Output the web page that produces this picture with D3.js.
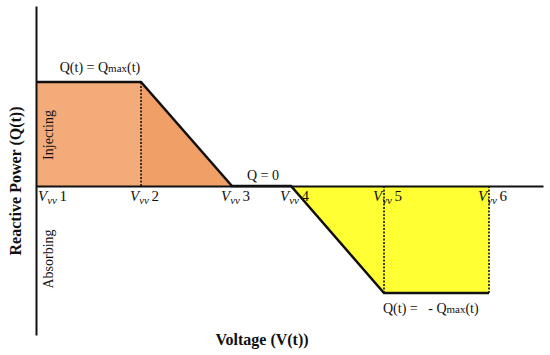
<!DOCTYPE html>
<html>
<head>
<meta charset="utf-8">
<script src="https://cdn.jsdelivr.net/npm/d3@7/dist/d3.min.js"></script>
<style>
  body { margin: 0; background: #fff; }
  svg { display: block; }
  text { font-family: "Liberation Serif", "Times New Roman", serif; fill: #111; }
</style>
</head>
<body>
<svg id="chart" width="550" height="355"></svg>
<script>
// volt-var breakpoints (arbitrary voltage units) and reactive power (per unit of Qmax)
const vvLabels = ['1', '2', '3', '4', '5', '6'];
const vvVoltage = [0, 1.05, 1.96, 2.55, 3.48, 4.53];
const vvQ = [1, 1, 0, 0, -1, -1];
const injectingRect = [0, 1];   // indexes: flat Qmax part
const injectingRamp = [1, 2];   // indexes: ramp down to 0
const absorbingPart = [3, 4, 5];

const svg = d3.select('#chart');

const x = d3.scaleLinear().domain([0, 5.07]).range([36, 543]);
const y = d3.scaleLinear().domain([1, 0, -1]).range([82, 186, 293]);

const area = d3.area()
  .x((i) => x(vvVoltage[i]))
  .y0(y(0))
  .y1((i) => y(vvQ[i]));

// filled regions
svg.append('path').datum(injectingRect).attr('d', area).attr('fill', '#F4AB7A');
svg.append('path').datum(injectingRamp).attr('d', area).attr('fill', '#F0A066');
svg.append('path').datum(absorbingPart).attr('d', area).attr('fill', '#FFFF33');

// dashed verticals at V2, V5, V6
[1, 4, 5].forEach((i) => {
  svg.append('line')
    .attr('x1', x(vvVoltage[i])).attr('x2', x(vvVoltage[i]))
    .attr('y1', y(0)).attr('y2', y(vvQ[i]))
    .attr('stroke', '#111')
    .attr('stroke-width', 1.6)
    .attr('stroke-dasharray', '2,1.5');
});

// axes
const xAxis = d3.axisBottom(x).tickValues([]).tickSizeOuter(0);
svg.append('g')
  .attr('transform', `translate(0,${y(0)})`)
  .call(xAxis)
  .call((g) => g.select('.domain').attr('stroke', '#111').attr('stroke-width', 2));

const yAxis = d3.axisLeft(d3.scaleLinear().domain([0, 1]).range([335, 6])).tickValues([]).tickSizeOuter(0);
svg.append('g')
  .attr('transform', 'translate(36,0)')
  .call(yAxis)
  .call((g) => g.select('.domain').attr('stroke', '#111').attr('stroke-width', 2));

// volt-var curve
const curve = d3.line()
  .x((i) => x(vvVoltage[i]))
  .y((i) => y(vvQ[i]));
svg.append('path')
  .datum(d3.range(vvVoltage.length))
  .attr('d', curve)
  .attr('fill', 'none')
  .attr('stroke', '#111')
  .attr('stroke-width', 2.5)
  .attr('stroke-linejoin', 'miter');

// breakpoint labels V_vv n
vvLabels.forEach((lab, i) => {
  const dx = i === 0 ? 2 : -11;
  const t = svg.append('text')
    .attr('x', x(vvVoltage[i]) + dx)
    .attr('y', 201)
    .style('font-size', '15px');
  t.append('tspan').text('V').style('font-style', 'italic');
  t.append('tspan').text('vv').style('font-style', 'italic')
    .style('font-size', '11px').attr('dy', 3);
  t.append('tspan').text(lab).attr('dy', -3).attr('dx', 2.5);
});

// level annotations
const qTop = svg.append('text').attr('x', 100).attr('y', 72)
  .attr('text-anchor', 'middle').style('font-size', '14px');
qTop.append('tspan').text('Q(t) = Q');
qTop.append('tspan').text('max').style('font-size', '11px');
qTop.append('tspan').text('(t)');

svg.append('text').attr('x', 263).attr('y', 180)
  .attr('text-anchor', 'middle').style('font-size', '14px')
  .text('Q = 0');

const qBot = svg.append('text').attr('x', 383).attr('y', 313)
  .style('font-size', '14px').attr('xml:space', 'preserve');
qBot.append('tspan').text('Q(t) =   - Q');
qBot.append('tspan').text('max').style('font-size', '11px');
qBot.append('tspan').text('(t)');

// region labels
svg.append('text')
  .attr('transform', 'translate(53,135) rotate(-90)')
  .attr('text-anchor', 'middle').style('font-size', '14px')
  .text('Injecting');
svg.append('text')
  .attr('transform', 'translate(53,259) rotate(-90)')
  .attr('text-anchor', 'middle').style('font-size', '14px')
  .text('Absorbing');

// axis titles
svg.append('text')
  .attr('transform', 'translate(21,181) rotate(-90)')
  .attr('text-anchor', 'middle')
  .style('font-size', '16px').style('font-weight', 'bold')
  .text('Reactive Power (Q(t))');
svg.append('text')
  .attr('x', 262).attr('y', 345)
  .attr('text-anchor', 'middle')
  .style('font-size', '16px').style('font-weight', 'bold')
  .text('Voltage (V(t))');
</script>
</body>
</html>
